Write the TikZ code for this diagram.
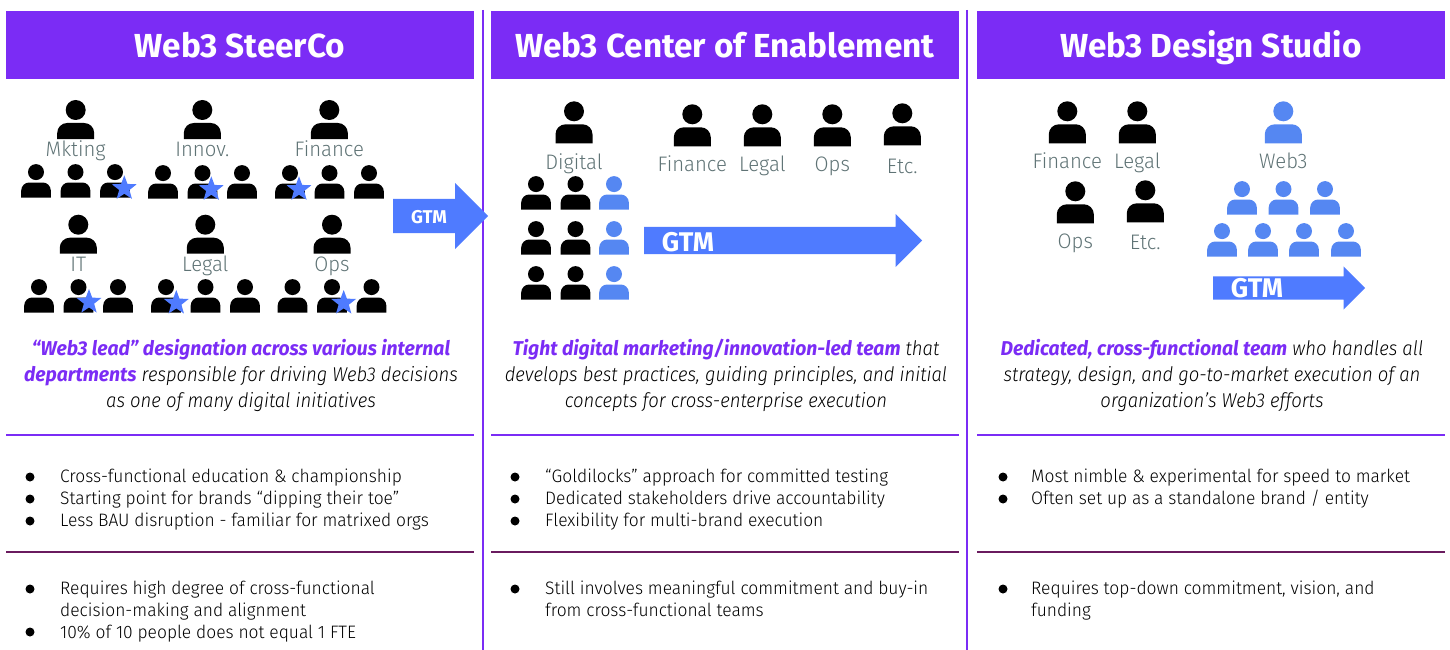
\documentclass[tikz,border=0pt]{standalone}
\usepackage{fontspec}
\setmainfont{Fira Sans}[UprightFont=* Light,ItalicFont=* Light Italic,BoldFont=* Bold,BoldItalicFont=* Bold Italic,UprightFeatures={FakeStretch=0.967},ItalicFeatures={FakeStretch=0.925},BoldFeatures={FakeStretch=1},BoldItalicFeatures={FakeStretch=0.967}]
\usetikzlibrary{arrows,shapes}
\definecolor{webpurple}{HTML}{7B2CF5}
\definecolor{maroon}{HTML}{6A1B5F}
\definecolor{arrowblue}{HTML}{4F7BFF}
\definecolor{peopleblue}{HTML}{5587F2}
\definecolor{labelgrey}{HTML}{5F7375}
\newcommand{\personshape}[3]{
  \pgfextra{\begin{pgfinterruptpath}
  \begin{scope}[x=1pt,y=1pt,shift={(\tikzlastnode.south)},scale=#1]
    \fill[#2] (0,#3) circle (10);
    \fill[#2] (-18.5,0) -- (-18.5,#3-23) arc[start angle=180,end angle=90,radius=10] -- (8.5,#3-13) arc[start angle=90,end angle=0,radius=10] -- (18.5,0) -- cycle;
  \end{scope}
  \end{pgfinterruptpath}}}
\newcommand{\leadin}[1]{\textcolor{webpurple}{\bfseries #1}}
\begin{document}
\begin{tikzpicture}[x=1pt,y=-1pt,node distance=39.5pt]
        \tikzstyle{big}=[inner sep=0pt,minimum width=38pt,minimum height=40pt,append after command={\personshape{1}{black}{29}}]
        \tikzstyle{tall}=[inner sep=0pt,minimum width=38pt,minimum height=42pt,append after command={\personshape{1}{black}{32}}]
        \tikzstyle{tallblue}=[inner sep=0pt,minimum width=38pt,minimum height=42pt,append after command={\personshape{1}{peopleblue}{32}}]
        \tikzstyle{small}=[inner sep=0pt,minimum width=31pt,minimum height=33pt,append after command={\personshape{0.8}{black}{32}}]
        \tikzstyle{smallblue}=[inner sep=0pt,minimum width=31pt,minimum height=33pt,append after command={\personshape{0.8}{peopleblue}{32}}]
        \tikzstyle{lab}=[inner sep=0pt,text=labelgrey,text height=15pt,text depth=5pt,font=\fontsize{21}{24}\selectfont,node distance=33pt]
        \tikzstyle{head}=[fill=webpurple,text=white,minimum width=468pt,minimum height=68pt,inner sep=0pt,text height=26pt,text depth=0pt,font=\fontsize{33.3}{36}\selectfont\bfseries]
        \tikzstyle{webstar}=[star,star points=5,star point ratio=2.4,fill=arrowblue,inner sep=0pt,minimum size=26pt]
        \tikzstyle{gtm}=[single arrow,single arrow tip angle=90,fill=arrowblue,inner xsep=0pt,anchor=tail]
        \tikzstyle{gtmtext}=[text=white,inner sep=0pt,font=\fontsize{27}{30}\selectfont\bfseries]
        \tikzstyle{para}=[align=center,inner sep=0pt,font=\fontsize{20}{26}\selectfont\itshape]
        \tikzstyle{dot}=[circle,fill=black,inner sep=0pt,minimum size=9pt]
        \tikzstyle{item}=[inner sep=0pt,anchor=base west,align=left,font=\fontsize{18}{22}\selectfont]
        \tikzstyle{rule}=[webpurple,line width=1.7pt]
        \tikzstyle{rulelow}=[maroon,line width=1.7pt]

        \useasboundingbox (0,0) rectangle (1450,650);

        \draw[webpurple,line width=1.7pt] (483,10) -- (483,650);
        \draw[webpurple,line width=1.7pt] (967,10) -- (967,650);

        \node[head](steerco) at (240,45){Web3 SteerCo};
        \node[head](center) at (725,45){Web3 Center of Enablement};
        \node[head](studio) at (1211,45){Web3 Design Studio};

        \begin{scope}
          \node[big,anchor=south](mkting) at (75.7,139){};
          \node[big,anchor=south](innov) at (202.3,139){};
          \node[big,anchor=south](finance) at (329.3,139){};
          \node[big,anchor=south](it) at (78.3,253.7){};
          \node[big,anchor=south](legal) at (205.3,253.7){};
          \node[big,anchor=south](ops) at (332,253.7){};

          \node[lab](mktinglab)[below of=mkting]{Mkting};
          \node[lab](innovlab)[below of=innov]{Innov.};
          \node[lab](financelab)[below of=finance]{Finance};
          \node[lab](itlab)[below of=it]{IT};
          \node[lab](legallab)[below of=legal]{Legal};
          \node[lab](opslab)[below of=ops]{Ops};

          \node[small,anchor=south](m1) at (36,197.7){};
          \node[small](m2)[right of=m1]{};
          \node[small](m3)[right of=m2]{};
          \node[small,anchor=south](n1) at (163,198.7){};
          \node[small](n2)[right of=n1]{};
          \node[small](n3)[right of=n2]{};
          \node[small,anchor=south](f1) at (290,198.7){};
          \node[small](f2)[right of=f1]{};
          \node[small](f3)[right of=f2]{};
          \node[small,anchor=south](i1) at (39,312.7){};
          \node[small](i2)[right of=i1]{};
          \node[small](i3)[right of=i2]{};
          \node[small,anchor=south](l1) at (166,312.7){};
          \node[small](l2)[right of=l1]{};
          \node[small](l3)[right of=l2]{};
          \node[small,anchor=south](o1) at (292.5,312.7){};
          \node[small](o2)[right of=o1]{};
          \node[small](o3)[right of=o2]{};

          \node[webstar](s1) at (124.3,188.3){};
          \node[webstar](s2) at (211.3,189.3){};
          \node[webstar](s3) at (299,189.3){};
          \node[webstar](s4) at (89,302){};
          \node[webstar](s5) at (176.3,303){};
          \node[webstar](s6) at (343.7,303){};

          \node[gtm,inner ysep=17pt,single arrow head extend=16pt,minimum height=95pt](gtm1) at (393,216){};
          \node[gtmtext,font=\fontsize{18.5}{20}\selectfont\bfseries](gtm1text) at (429,217){GTM};

          \node[para](para1) at (241,375){\leadin{``Web3 lead'' designation across various internal}\\\leadin{departments} responsible for driving Web3 decisions\\as one of many digital initiatives};
          \draw[rule] (6,435) -- (474,435);
          \draw[rulelow] (6,552) -- (474,552);

          \node[dot](b1) at (30,477){};
          \node[item](t1) at (60,482){Cross-functional education \& championship};
          \node[dot](b2) at (30,499){};
          \node[item](t2) at (60,504){Starting point for brands ``dipping their toe''};
          \node[dot](b3) at (30,521){};
          \node[item](t3) at (60,526){Less BAU disruption - familiar for matrixed orgs};
          \node[dot](b4) at (30,589){};
          \node[item](t4) at (60,616){Requires high degree of cross-functional\\decision-making and alignment};
          \node[dot](b5) at (30,632){};
          \node[item](t5) at (60,638){10\% of 10 people does not equal 1 FTE};
        \end{scope}

        \begin{scope}
          \node[tall,anchor=south](digital) at (574,143.3){};
          \node[tall,anchor=south](finance2) at (692.3,146.3){};
          \node[tall,anchor=south](legal2) at (762.3,146.3){};
          \node[tall,anchor=south](ops2) at (832.3,146.3){};
          \node[tall,anchor=south](etc2) at (902.3,145.3){};

          \node[lab,node distance=42.7pt](digitallab)[below of=digital]{Digital};
          \node[lab,node distance=41.4pt](finance2lab)[below of=finance2]{Finance};
          \node[lab,node distance=41.4pt](legal2lab)[below of=legal2]{Legal};
          \node[lab,node distance=41.4pt](ops2lab)[below of=ops2]{Ops};
          \node[lab,node distance=44pt](etc2lab)[below of=etc2]{Etc.};

          \node[small,anchor=south](d1) at (536,209.7){};
          \node[small](d2)[right of=d1]{};
          \node[smallblue,node distance=38.5pt](d3)[right of=d2]{};
          \node[small,anchor=south](d4) at (536,254.7){};
          \node[small](d5)[right of=d4]{};
          \node[smallblue,node distance=38.5pt](d6)[right of=d5]{};
          \node[small,anchor=south](d7) at (536,299.7){};
          \node[small](d8)[right of=d7]{};
          \node[smallblue,node distance=38.5pt](d9)[right of=d8]{};

          \node[gtm,inner ysep=13.5pt,single arrow head extend=13pt,minimum height=278pt](gtm2) at (644,240.5){};
          \node[gtmtext](gtm2text) at (688,242){GTM};

          \node[para](para2) at (726,375){\leadin{Tight digital marketing/innovation-led team} that\\develops best practices, guiding principles, and initial\\concepts for cross-enterprise execution};
          \draw[rule] (491,435) -- (959,435);
          \draw[rulelow] (491,552) -- (959,552);

          \node[dot](b6) at (515,477){};
          \node[item](t6) at (545,482){``Goldilocks'' approach for committed testing};
          \node[dot](b7) at (515,499){};
          \node[item](t7) at (545,504){Dedicated stakeholders drive accountability};
          \node[dot](b8) at (515,521){};
          \node[item](t8) at (545,526){Flexibility for multi-brand execution};
          \node[dot](b9) at (515,589){};
          \node[item](t9) at (545,616){Still involves meaningful commitment and buy-in\\from cross-functional teams};
        \end{scope}

        \begin{scope}
          \node[tall,anchor=south](finance3) at (1067.3,143.3){};
          \node[tall,anchor=south](legal3) at (1137.3,143.3){};
          \node[tallblue,anchor=south](web3) at (1283.3,143.3){};
          \node[tall,anchor=south](ops3) at (1075.3,223.3){};
          \node[tall,anchor=south](etc3) at (1145.3,222.3){};

          \node[lab,node distance=41.4pt](finance3lab)[below of=finance3]{Finance};
          \node[lab,node distance=41.4pt](legal3lab)[below of=legal3]{Legal};
          \node[lab,node distance=41.4pt](web3lab)[below of=web3]{Web3};
          \node[lab,node distance=41.4pt](ops3lab)[below of=ops3]{Ops};
          \node[lab,node distance=43pt](etc3lab)[below of=etc3]{Etc.};

          \node[smallblue,anchor=south](w1) at (1242,214.7){};
          \node[smallblue,node distance=41.5pt](w2)[right of=w1]{};
          \node[smallblue,node distance=41.5pt](w3)[right of=w2]{};
          \node[smallblue,anchor=south](w4) at (1222,256.7){};
          \node[smallblue,node distance=41pt](w5)[right of=w4]{};
          \node[smallblue,node distance=41pt](w6)[right of=w5]{};
          \node[smallblue,node distance=42pt](w7)[right of=w6]{};

          \node[gtm,inner ysep=11.5pt,single arrow head extend=10pt,minimum height=152pt](gtm3) at (1213,288){};
          \node[gtmtext](gtm3text) at (1257,288.5){GTM};

          \node[para](para3) at (1212,375){\leadin{Dedicated, cross-functional team} who handles all\\strategy, design, and go-to-market execution of an\\organization's Web3 efforts};
          \draw[rule] (977,435) -- (1445,435);
          \draw[rulelow] (977,552) -- (1445,552);

          \node[dot](b10) at (1003,477){};
          \node[item](t10) at (1031,482){Most nimble \& experimental for speed to market};
          \node[dot](b11) at (1003,499){};
          \node[item](t11) at (1031,504){Often set up as a standalone brand / entity};
          \node[dot](b12) at (1003,589){};
          \node[item](t12) at (1031,616){Requires top-down commitment, vision, and\\funding};
        \end{scope}
      \end{tikzpicture}
\end{document}
